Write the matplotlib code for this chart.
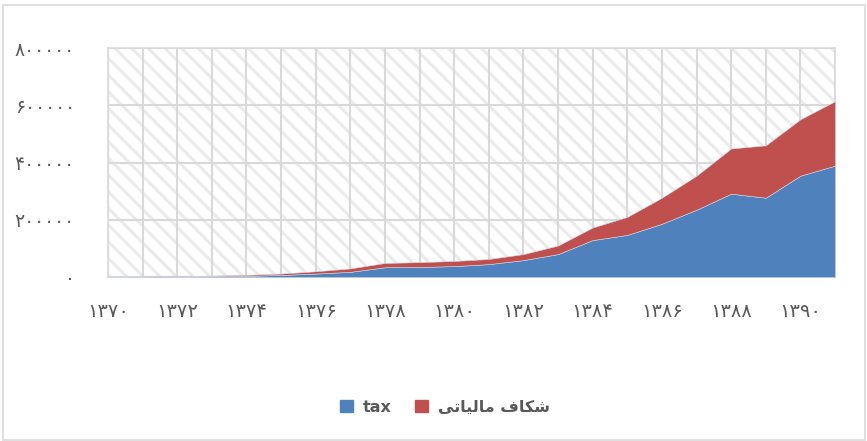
import matplotlib
matplotlib.use("Agg")
import matplotlib.pyplot as plt
from matplotlib.patches import Patch, Rectangle
import numpy as np

years = list(range(1370, 1392))
tax = [500, 1000, 1500, 2500, 4000, 7000, 12000, 18000, 34000, 35000, 38000,
       45000, 59000, 80000, 129000, 147000, 186000, 235000, 291000, 277000,
       354000, 389000]
total = [1000, 2000, 3500, 5000, 7500, 12000, 20000, 30000, 49000, 52000, 56000,
         63000, 80000, 110000, 173000, 210000, 277000, 354000, 449000, 460000,
         551000, 614000]
gap = [t - x for t, x in zip(total, tax)]

x_tick_years = list(range(1370, 1391, 2))
y_ticks = [0, 200000, 400000, 600000, 800000]

FA_DIGITS = str.maketrans("0123456789", "۰۱۲۳۴۵۶۷۸۹")
def fa(n):
    return str(n).translate(FA_DIGITS)

# "شکاف مالیاتی" in presentation forms, visual (left-to-right) order
gap_label = "\uFBFD\uFE97\uFE8E\uFBFF\uFEDF\uFE8E\uFEE3 \uFED1\uFE8E\uFB91\uFEB7"
tax_label = "tax"

BLUE = "#4f81bd"
RED = "#c0504d"
GRID = "#d9d9d9"
TXT = "#595959"

plt.rcParams['font.family'] = ['DejaVu Sans']
plt.rcParams['hatch.linewidth'] = 2.2

fig = plt.figure(figsize=(8.67, 4.41), dpi=100)
ax = fig.add_axes([108/867, 1-277/441, (835-108)/867, (277-48)/441])

# hatched background
bg = Rectangle((0, 0), 1, 1, transform=ax.transAxes, facecolor="white",
               edgecolor="#ebebeb", linewidth=0, hatch="\\\\", zorder=0)
ax.add_patch(bg)
ax.set_facecolor("white")

ax.stackplot(years, tax, gap, colors=[BLUE, RED], zorder=3,
             edgecolor="#d0d8e8", linewidth=0.4)

ax.set_xlim(1370, 1391)
ax.set_ylim(0, 800000)
ax.set_yticks(y_ticks)
ax.set_yticklabels([fa(v) for v in y_ticks])
ax.set_xticks(years, minor=False)
ax.set_xticklabels([fa(y) if y in x_tick_years else "" for y in years])

ax.grid(True, color=GRID, linewidth=1.5, zorder=1)
ax.set_axisbelow(True)
for s in ax.spines.values():
    s.set_color(GRID)
    s.set_linewidth(1.2)
ax.tick_params(axis='both', length=0, colors=TXT)
ax.tick_params(axis='x', pad=18, labelsize=14)
ax.tick_params(axis='y', pad=24, labelsize=13.5)

# figure border
fig.patches.append(Rectangle((3/867, 1/441), 862/867, 1-6/441, transform=fig.transFigure,
                             fill=False, edgecolor=GRID, linewidth=1.2))

handles = [Patch(facecolor=BLUE, edgecolor=BLUE), Patch(facecolor=RED, edgecolor=RED)]
leg = fig.legend(handles, [tax_label, gap_label], ncol=2, loc="center",
                 bbox_to_anchor=(445/867, 1-407/441), frameon=False,
                 prop={'weight': 'bold', 'size': 11.5}, handlelength=0.8,
                 handleheight=0.8, handletextpad=0.6, columnspacing=1.5)
for t in leg.get_texts():
    t.set_color(TXT)

fig.savefig("out.png", dpi=100)
